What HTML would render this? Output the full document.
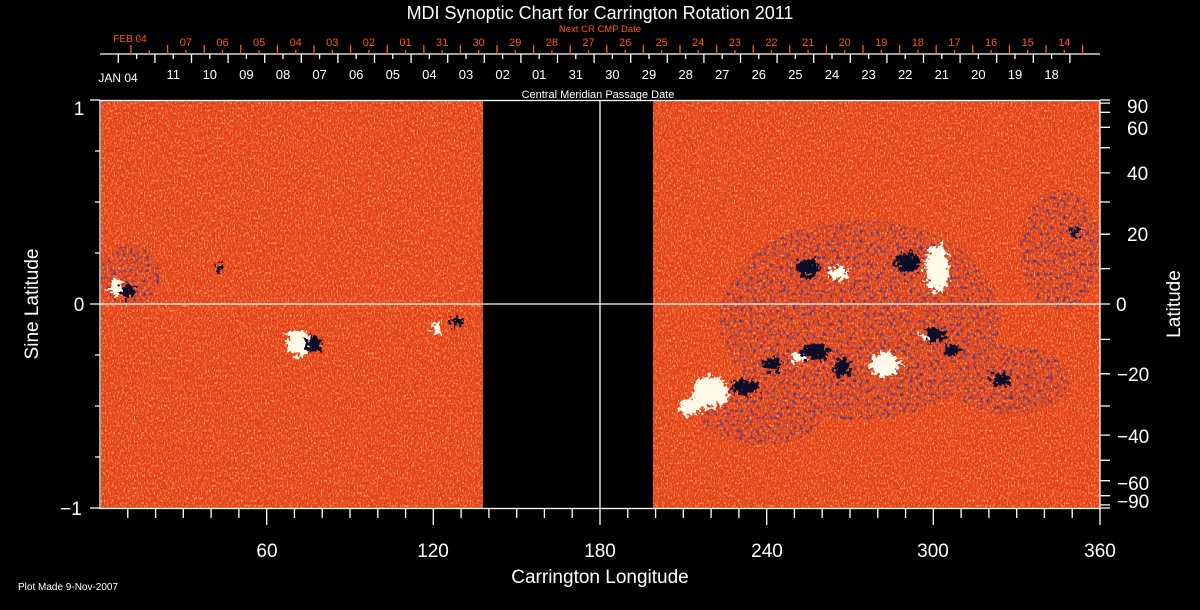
<!DOCTYPE html>
<html><head><meta charset="utf-8">
<style>
html,body{margin:0;padding:0;background:#000;}
svg{display:block;}
text{font-family:"Liberation Sans",sans-serif;}
</style></head>
<body>
<svg width="1200" height="610" viewBox="0 0 1200 610" xmlns="http://www.w3.org/2000/svg">
<defs>
<filter id="spk" x="0" y="0" width="100%" height="100%">
  <feTurbulence type="fractalNoise" baseFrequency="0.7 0.4" numOctaves="2" seed="4"/>
  <feColorMatrix type="matrix" values="0 0 0 0 1  0 0 0 0 0.58  0 0 0 0 0.18  2.4 0 0 0 -1.15"/>
</filter>
<filter id="spk3" x="0" y="0" width="100%" height="100%">
  <feTurbulence type="fractalNoise" baseFrequency="0.8 0.5" numOctaves="1" seed="31"/>
  <feColorMatrix type="matrix" values="0 0 0 0 1  0 0 0 0 0.95  0 0 0 0 0.6  3 0 0 0 -2.0"/>
</filter>
<filter id="spk2" x="0" y="0" width="100%" height="100%">
  <feTurbulence type="fractalNoise" baseFrequency="0.6 0.4" numOctaves="1" seed="11"/>
  <feColorMatrix type="matrix" values="0 0 0 0 0.7  0 0 0 0 0.06  0 0 0 0 0.02  2.6 0 0 0 -1.25"/>
</filter>
<filter id="spk4" x="0" y="0" width="100%" height="100%">
  <feTurbulence type="fractalNoise" baseFrequency="0.5 0.5" numOctaves="1" seed="57"/>
  <feColorMatrix type="matrix" values="0 0 0 0 0.05  0 0 0 0 0.05  0 0 0 0 0.35  4 0 0 0 -2.75"/>
</filter>
<filter id="dk" x="-40%" y="-40%" width="180%" height="180%">
  <feTurbulence type="fractalNoise" baseFrequency="0.25" numOctaves="2" seed="7" result="t"/>
  <feDisplacementMap in="SourceGraphic" in2="t" scale="18" xChannelSelector="R" yChannelSelector="G"/>
</filter>
<filter id="sc" x="-10%" y="-10%" width="120%" height="120%">
  <feTurbulence type="fractalNoise" baseFrequency="0.3" numOctaves="1" seed="21" result="t"/>
  <feColorMatrix in="t" type="matrix" values="0 0 0 0 0.03  0 0 0 0 0.03  0 0 0 0 0.25  3 0 0 0 -1.5" result="c"/>
  <feComposite in="c" in2="SourceGraphic" operator="in"/>
</filter>
<clipPath id="data"><rect x="101" y="101" width="382" height="407"/><rect x="653" y="101" width="447" height="407"/></clipPath>
</defs>

<g clip-path="url(#data)">
  <rect x="100" y="100" width="1000" height="410" fill="#e83e14"/>
  <rect x="100" y="100" width="1000" height="410" filter="url(#spk2)"/>
  <rect x="100" y="100" width="1000" height="410" filter="url(#spk)"/>
  <rect x="100" y="100" width="1000" height="410" filter="url(#spk3)"/>
  <rect x="100" y="100" width="1000" height="410" filter="url(#spk4)"/>
  <g filter="url(#sc)" fill="#fff">
    <ellipse cx="860" cy="320" rx="140" ry="100"/>
    <ellipse cx="1010" cy="380" rx="60" ry="35"/>
    <ellipse cx="1060" cy="250" rx="40" ry="60"/>
    <ellipse cx="130" cy="275" rx="30" ry="30"/>
    <ellipse cx="760" cy="420" rx="60" ry="25"/>
  </g>
  <g filter="url(#dk)" fill="#fffbe8">
    <ellipse cx="116" cy="287" rx="6" ry="9"/>
    <ellipse cx="298" cy="343" rx="12" ry="13"/>
    <ellipse cx="437" cy="328" rx="5" ry="6"/>
    <ellipse cx="838" cy="273" rx="10" ry="7"/>
    <ellipse cx="937" cy="268" rx="12" ry="24"/>
    <ellipse cx="710" cy="392" rx="18" ry="16"/>
    <ellipse cx="690" cy="407" rx="12" ry="8"/>
    <ellipse cx="885" cy="365" rx="15" ry="12"/>
    <ellipse cx="800" cy="358" rx="8" ry="5"/>
    <ellipse cx="925" cy="336" rx="6" ry="4"/>
  </g>
  <g filter="url(#dk)" fill="#08082a">
    <ellipse cx="128" cy="291" rx="7" ry="7"/>
    <ellipse cx="220" cy="268" rx="4" ry="3"/>
    <ellipse cx="313" cy="344" rx="8" ry="9"/>
    <ellipse cx="457" cy="322" rx="7" ry="5"/>
    <ellipse cx="808" cy="268" rx="11" ry="9"/>
    <ellipse cx="908" cy="262" rx="12" ry="10"/>
    <ellipse cx="745" cy="387" rx="14" ry="8"/>
    <ellipse cx="772" cy="365" rx="9" ry="7"/>
    <ellipse cx="815" cy="352" rx="15" ry="8"/>
    <ellipse cx="842" cy="368" rx="8" ry="10"/>
    <ellipse cx="935" cy="335" rx="10" ry="7"/>
    <ellipse cx="952" cy="350" rx="7" ry="6"/>
    <ellipse cx="1000" cy="380" rx="10" ry="6"/>
    <ellipse cx="1075" cy="232" rx="4" ry="5"/>
  </g>
</g>

<g stroke="#fff" stroke-width="1.3" fill="none">
  <rect x="100" y="100.5" width="1000" height="408"/>
  <line x1="100" y1="304" x2="1100" y2="304"/>
  <line x1="600" y1="100" x2="600" y2="508"/>
  <line x1="100" y1="54" x2="1100" y2="54"/>
  <path d="M118.3 54V63M154.9 54V63M191.5 54V63M228.1 54V63M264.7 54V63M301.3 54V63M337.9 54V63M374.5 54V63M411.1 54V63M447.7 54V63M484.3 54V63M520.9 54V63M557.5 54V63M594.1 54V63M630.7 54V63M667.3 54V63M703.9 54V63M740.5 54V63M777.1 54V63M813.7 54V63M850.3 54V63M886.9 54V63M923.5 54V63M960.1 54V63M996.7 54V63M1033.3 54V63M1069.9 54V63"/>
  <path d="M136.6 54V59M173.2 54V59M209.8 54V59M246.4 54V59M283 54V59M319.6 54V59M356.2 54V59M392.8 54V59M429.4 54V59M466 54V59M502.6 54V59M539.2 54V59M575.8 54V59M612.4 54V59M649 54V59M685.6 54V59M722.2 54V59M758.8 54V59M795.4 54V59M832 54V59M868.6 54V59M905.2 54V59M941.8 54V59M978.4 54V59M1015 54V59M1051.6 54V59"/>
  <path d="M127.8 508V518M155.6 508V518M183.3 508V518M211.1 508V518M238.9 508V518M266.7 508V525M294.4 508V518M322.2 508V518M350 508V518M377.8 508V518M405.6 508V518M433.3 508V525M461.1 508V518M488.9 508V518M516.7 508V518M544.4 508V518M572.2 508V518M600 508V525M627.8 508V518M655.6 508V518M683.3 508V518M711.1 508V518M738.9 508V518M766.7 508V525M794.4 508V518M822.2 508V518M850 508V518M877.8 508V518M905.6 508V518M933.3 508V525M961.1 508V518M988.9 508V518M1016.7 508V518M1044.4 508V518M1072.2 508V518M1100 508V525"/>
  <path d="M90 100H100M95 151H100M95 202H100M95 253H100M90 304H100M95 355H100M95 406H100M95 457H100M90 508H100"/>
  <path d="M1100 100H1110M1100 103.1H1110M1100 112.3H1110M1100 127.3H1110M1100 147.7H1110M1100 172.9H1110M1100 202H1110M1100 234.2H1110M1100 268.6H1110M1100 304H1110M1100 339.4H1110M1100 373.8H1110M1100 406H1110M1100 435.1H1110M1100 460.3H1110M1100 480.7H1110M1100 495.7H1110M1100 504.9H1110M1100 508H1110"/>
</g>
<g stroke="#ff5a10" stroke-width="1.3" fill="none">
  <path d="M131 54V45M167.6 54V45M204.2 54V45M240.8 54V45M277.4 54V45M314 54V45M350.6 54V45M387.2 54V45M423.8 54V45M460.4 54V45M497 54V45M533.6 54V45M570.2 54V45M606.8 54V45M643.4 54V45M680 54V45M716.6 54V45M753.2 54V45M789.8 54V45M826.4 54V45M863 54V45M899.6 54V45M936.2 54V45M972.8 54V45M1009.4 54V45M1046 54V45M1082.6 54V45"/>
  <path d="M149.3 54V50M185.9 54V50M222.5 54V50M259.1 54V50M295.7 54V50M332.3 54V50M368.9 54V50M405.5 54V50M442.1 54V50M478.7 54V50M515.3 54V50M551.9 54V50M588.5 54V50M625.1 54V50M661.7 54V50M698.3 54V50M734.9 54V50M771.5 54V50M808.1 54V50M844.7 54V50M881.3 54V50M917.9 54V50M954.5 54V50M991.1 54V50M1027.7 54V50M1064.3 54V50"/>
</g>

<g fill="#fff">
  <text x="600" y="19" font-size="18" text-anchor="middle">MDI Synoptic Chart for Carrington Rotation 2011</text>
  <text x="600" y="32" font-size="9.5" fill="#ff5a10" text-anchor="middle">Next CR CMP Date</text>
  <text x="130" y="42" font-size="10" fill="#ff5a10" text-anchor="middle">FEB 04</text>
  <text x="118" y="82" font-size="12" text-anchor="middle">JAN 04</text>
  <text x="598" y="98" font-size="11" text-anchor="middle">Central Meridian Passage Date</text>
  <text x="79" y="115" font-size="19" text-anchor="middle">1</text>
  <text x="79" y="311" font-size="19" text-anchor="middle">0</text>
  <text x="71" y="515" font-size="19" text-anchor="middle">−1</text>
  <text transform="translate(38,304) rotate(-90)" font-size="19" text-anchor="middle">Sine Latitude</text>
  <text transform="translate(1180,304) rotate(-90)" font-size="19" text-anchor="middle">Latitude</text>
  <text x="600" y="583" font-size="19" text-anchor="middle">Carrington Longitude</text>
  <text x="18" y="590" font-size="10">Plot Made  9-Nov-2007</text>
  <g font-size="19" text-anchor="middle">
    <text x="267" y="557">60</text><text x="433" y="557">120</text><text x="600" y="557">180</text>
    <text x="767" y="557">240</text><text x="933" y="557">300</text><text x="1100" y="557">360</text>
  </g>
  <g font-size="19">
    <text x="1127" y="113">90</text><text x="1127" y="135">60</text><text x="1127" y="180">40</text>
    <text x="1127" y="241">20</text><text x="1116" y="311">0</text><text x="1117" y="381">−20</text>
    <text x="1117" y="443">−40</text><text x="1117" y="490">−60</text><text x="1117" y="508">−90</text>
  </g>
  <g font-size="11" fill="#ff5a10" text-anchor="middle">
    <text x="185.9" y="46">07</text><text x="222.5" y="46">06</text><text x="259.1" y="46">05</text><text x="295.7" y="46">04</text><text x="332.3" y="46">03</text><text x="368.9" y="46">02</text><text x="405.5" y="46">01</text><text x="442.1" y="46">31</text><text x="478.7" y="46">30</text><text x="515.3" y="46">29</text><text x="551.9" y="46">28</text><text x="588.5" y="46">27</text><text x="625.1" y="46">26</text><text x="661.7" y="46">25</text><text x="698.3" y="46">24</text><text x="734.9" y="46">23</text><text x="771.5" y="46">22</text><text x="808.1" y="46">21</text><text x="844.7" y="46">20</text><text x="881.3" y="46">19</text><text x="917.9" y="46">18</text><text x="954.5" y="46">17</text><text x="991.1" y="46">16</text><text x="1027.7" y="46">15</text><text x="1064.3" y="46">14</text>
  </g>
  <g font-size="13" text-anchor="middle">
    <text x="173.2" y="79">11</text><text x="209.8" y="79">10</text><text x="246.4" y="79">09</text><text x="283" y="79">08</text><text x="319.6" y="79">07</text><text x="356.2" y="79">06</text><text x="392.8" y="79">05</text><text x="429.4" y="79">04</text><text x="466" y="79">03</text><text x="502.6" y="79">02</text><text x="539.2" y="79">01</text><text x="575.8" y="79">31</text><text x="612.4" y="79">30</text><text x="649" y="79">29</text><text x="685.6" y="79">28</text><text x="722.2" y="79">27</text><text x="758.8" y="79">26</text><text x="795.4" y="79">25</text><text x="832" y="79">24</text><text x="868.6" y="79">23</text><text x="905.2" y="79">22</text><text x="941.8" y="79">21</text><text x="978.4" y="79">20</text><text x="1015" y="79">19</text><text x="1051.6" y="79">18</text>
  </g>
</g>
</svg>
</body></html>
